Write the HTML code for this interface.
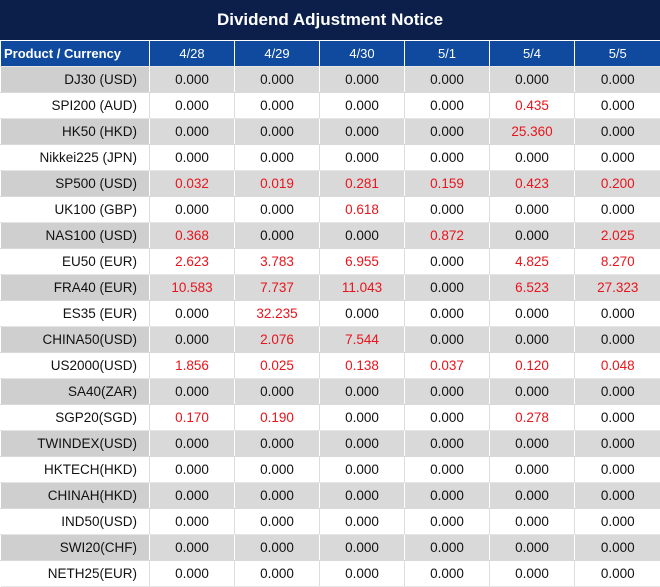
<!DOCTYPE html><html><head><style>
body{margin:0;width:660px;height:587px;overflow:hidden;background:#fff;font-family:"Liberation Sans",sans-serif}
.t{height:40px;background:#0b1f4a;color:#fff;font-weight:bold;font-size:17px;text-align:center;line-height:40px;border-bottom:1px solid #fff}
table{border-collapse:collapse;table-layout:fixed;width:660px}
td{height:25px;padding:0;font-size:13.5px;text-align:center;border-left:1px solid #ddd;border-bottom:1px solid #e6e6e6;color:#111;white-space:nowrap}
tr.h td{background:#0f4a9f;color:#fff;border-left:1px solid #fff;height:25px;font-size:13px}
tr.h td:first-child{text-align:left;font-weight:bold;padding-left:3px}
tr.g td{background:#d9d9d9;border-left:1px solid #fff;border-bottom:1px solid #d9d9d9}
tr.g td:first-child{background:#cfcfcf}
td:first-child{text-align:right;padding-right:12px;border-left:none}
.r{color:#e8141b}
</style></head><body>
<div class="t">Dividend Adjustment Notice</div>
<table>
<colgroup><col style="width:149px"><col style="width:85px"><col style="width:85px"><col style="width:85px"><col style="width:85px"><col style="width:85px"><col style="width:86px"></colgroup>
<tr class="h"><td>Product / Currency</td><td>4/28</td><td>4/29</td><td>4/30</td><td>5/1</td><td>5/4</td><td>5/5</td></tr>
<tr class="g"><td>DJ30 (USD)</td><td>0.000</td><td>0.000</td><td>0.000</td><td>0.000</td><td>0.000</td><td>0.000</td></tr>
<tr><td>SPI200 (AUD)</td><td>0.000</td><td>0.000</td><td>0.000</td><td>0.000</td><td class="r">0.435</td><td>0.000</td></tr>
<tr class="g"><td>HK50 (HKD)</td><td>0.000</td><td>0.000</td><td>0.000</td><td>0.000</td><td class="r">25.360</td><td>0.000</td></tr>
<tr><td>Nikkei225 (JPN)</td><td>0.000</td><td>0.000</td><td>0.000</td><td>0.000</td><td>0.000</td><td>0.000</td></tr>
<tr class="g"><td>SP500 (USD)</td><td class="r">0.032</td><td class="r">0.019</td><td class="r">0.281</td><td class="r">0.159</td><td class="r">0.423</td><td class="r">0.200</td></tr>
<tr><td>UK100 (GBP)</td><td>0.000</td><td>0.000</td><td class="r">0.618</td><td>0.000</td><td>0.000</td><td>0.000</td></tr>
<tr class="g"><td>NAS100 (USD)</td><td class="r">0.368</td><td>0.000</td><td>0.000</td><td class="r">0.872</td><td>0.000</td><td class="r">2.025</td></tr>
<tr><td>EU50 (EUR)</td><td class="r">2.623</td><td class="r">3.783</td><td class="r">6.955</td><td>0.000</td><td class="r">4.825</td><td class="r">8.270</td></tr>
<tr class="g"><td>FRA40 (EUR)</td><td class="r">10.583</td><td class="r">7.737</td><td class="r">11.043</td><td>0.000</td><td class="r">6.523</td><td class="r">27.323</td></tr>
<tr><td>ES35 (EUR)</td><td>0.000</td><td class="r">32.235</td><td>0.000</td><td>0.000</td><td>0.000</td><td>0.000</td></tr>
<tr class="g"><td>CHINA50(USD)</td><td>0.000</td><td class="r">2.076</td><td class="r">7.544</td><td>0.000</td><td>0.000</td><td>0.000</td></tr>
<tr><td>US2000(USD)</td><td class="r">1.856</td><td class="r">0.025</td><td class="r">0.138</td><td class="r">0.037</td><td class="r">0.120</td><td class="r">0.048</td></tr>
<tr class="g"><td>SA40(ZAR)</td><td>0.000</td><td>0.000</td><td>0.000</td><td>0.000</td><td>0.000</td><td>0.000</td></tr>
<tr><td>SGP20(SGD)</td><td class="r">0.170</td><td class="r">0.190</td><td>0.000</td><td>0.000</td><td class="r">0.278</td><td>0.000</td></tr>
<tr class="g"><td>TWINDEX(USD)</td><td>0.000</td><td>0.000</td><td>0.000</td><td>0.000</td><td>0.000</td><td>0.000</td></tr>
<tr><td>HKTECH(HKD)</td><td>0.000</td><td>0.000</td><td>0.000</td><td>0.000</td><td>0.000</td><td>0.000</td></tr>
<tr class="g"><td>CHINAH(HKD)</td><td>0.000</td><td>0.000</td><td>0.000</td><td>0.000</td><td>0.000</td><td>0.000</td></tr>
<tr><td>IND50(USD)</td><td>0.000</td><td>0.000</td><td>0.000</td><td>0.000</td><td>0.000</td><td>0.000</td></tr>
<tr class="g"><td>SWI20(CHF)</td><td>0.000</td><td>0.000</td><td>0.000</td><td>0.000</td><td>0.000</td><td>0.000</td></tr>
<tr><td>NETH25(EUR)</td><td>0.000</td><td>0.000</td><td>0.000</td><td>0.000</td><td>0.000</td><td>0.000</td></tr>
</table>
</body></html>
